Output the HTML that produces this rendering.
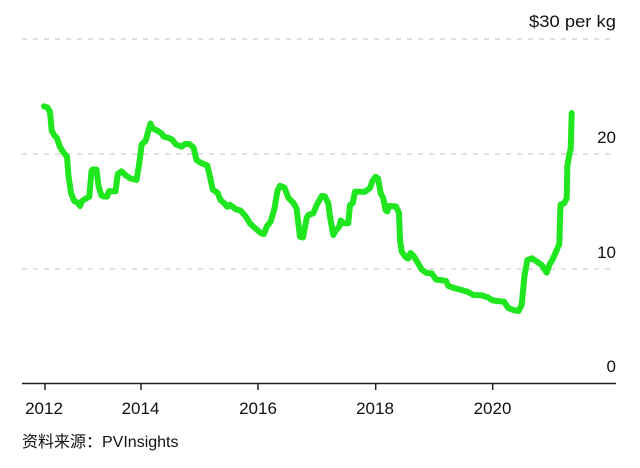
<!DOCTYPE html>
<html>
<head>
<meta charset="utf-8">
<style>
html,body{margin:0;padding:0;background:#fff;}
svg{display:block;}
text{font-family:"Liberation Sans","Noto Sans CJK SC",sans-serif;fill:#111;}
</style>
</head>
<body>
<svg width="640" height="468" viewBox="0 0 640 468" xmlns="http://www.w3.org/2000/svg">
  <!-- gridlines -->
  <g stroke="#d6d6d6" stroke-width="1.6" stroke-dasharray="5 6">
    <line x1="22" y1="39" x2="610" y2="39"/>
    <line x1="22" y1="154" x2="610" y2="154"/>
    <line x1="22" y1="269" x2="610" y2="269"/>
  </g>
  <!-- axis -->
  <line x1="22" y1="383.5" x2="616" y2="383.5" stroke="#222" stroke-width="1.5"/>
  <g stroke="#222" stroke-width="1.5">
    <line x1="45" y1="383" x2="45" y2="390"/>
    <line x1="141" y1="383" x2="141" y2="390"/>
    <line x1="258" y1="383" x2="258" y2="390"/>
    <line x1="375.7" y1="383" x2="375.7" y2="390"/>
    <line x1="492.7" y1="383" x2="492.7" y2="390"/>
  </g>
  <!-- y labels -->
  <g font-size="17" text-anchor="end">
    <text x="616" y="27" textLength="87" lengthAdjust="spacingAndGlyphs">$30 per kg</text>
    <text x="616" y="143">20</text>
    <text x="616" y="258">10</text>
    <text x="616" y="372">0</text>
  </g>
  <!-- x labels -->
  <g font-size="17" text-anchor="middle">
    <text x="44" y="414">2012</text>
    <text x="140.5" y="414">2014</text>
    <text x="258" y="414">2016</text>
    <text x="375" y="414">2018</text>
    <text x="492.5" y="414">2020</text>
  </g>
  <!-- source -->
  <text x="22" y="447" font-size="16">资料来源：PVInsights</text>
  <!-- series -->
  <polyline fill="none" stroke="#1fe61f" stroke-width="6" stroke-linejoin="round" stroke-linecap="round"
    points="44,106.3 47.5,107.5 50,112 51.7,130.5 54.3,135.5 56.7,137.5 60,147 63.5,152.5 67,156.7 68.5,176 71,193 74.2,201 77.5,202.5 80,206 82,201 85.5,198.8 89.3,196.7 91.5,171 92.5,169.5 96.5,169.5 98.5,186 101.5,195.5 103.5,196.5 107,196.5 109,191.3 115.5,191.3 117.8,174 121.5,171.3 126,175.5 130,178.3 135,179.5 136.5,180 139.3,163.3 141.7,144.3 145.5,141 150.5,123.5 152.5,128.3 157,130.5 161.7,133.5 163.5,136.5 168.3,137.8 172,139.5 176,144.5 181.7,146.7 185,144 189.3,144 193.5,147.5 196.5,160 200.5,162.7 207.3,165.5 210,176.7 212.7,189.5 217.5,192.7 220.5,200 224.5,203.5 227.3,206.8 230,204.8 236,209.3 240.5,210.5 245.5,216 250,223.5 255.5,228.5 261,233.3 264,234 266.7,226.7 270.7,221.5 274.5,208.5 277.5,190.5 280,185.8 284.5,187.7 288.5,198 293.5,203 296.5,208.3 300,236.7 303,237.5 306.8,217.5 308.5,215 313.3,213.3 316.7,205 321.7,196 325,196.5 328.3,203.3 330,216.7 333.3,235 336,230 339.3,226.7 340.7,220.5 344,223.3 348.3,223.3 350,205 352.7,203.3 355,191.7 365,191.7 370,188 372.7,180.5 375.5,176.8 378,178.3 380.7,193.3 383.3,198.3 385.5,210 387.3,211.5 389,206 396,206.5 399,213 400,240 401.7,251.7 406,257.5 408.3,258.5 410.5,253 413.3,255.5 417.3,262 421.7,269.5 426.5,273 431.7,273.3 436,279.5 440,280 446,281 448.5,286 455,288.3 461.7,290 467.3,291.7 473.5,295 481.7,295.3 488.3,297.5 491.7,300 496.7,301 504,301.7 508.3,308 513.3,310 518.5,311 521.7,305 524.3,277 527.3,260 531.7,258.3 536.7,261.5 541.7,265 546.7,272.7 549.3,265 552.7,259.3 556,251.7 559.3,244 560.3,210 560.7,204.5 564,203.5 566.7,198.3 567.3,166.7 569.3,154.5 570.7,149 571.7,113"/>
</svg>
</body>
</html>
